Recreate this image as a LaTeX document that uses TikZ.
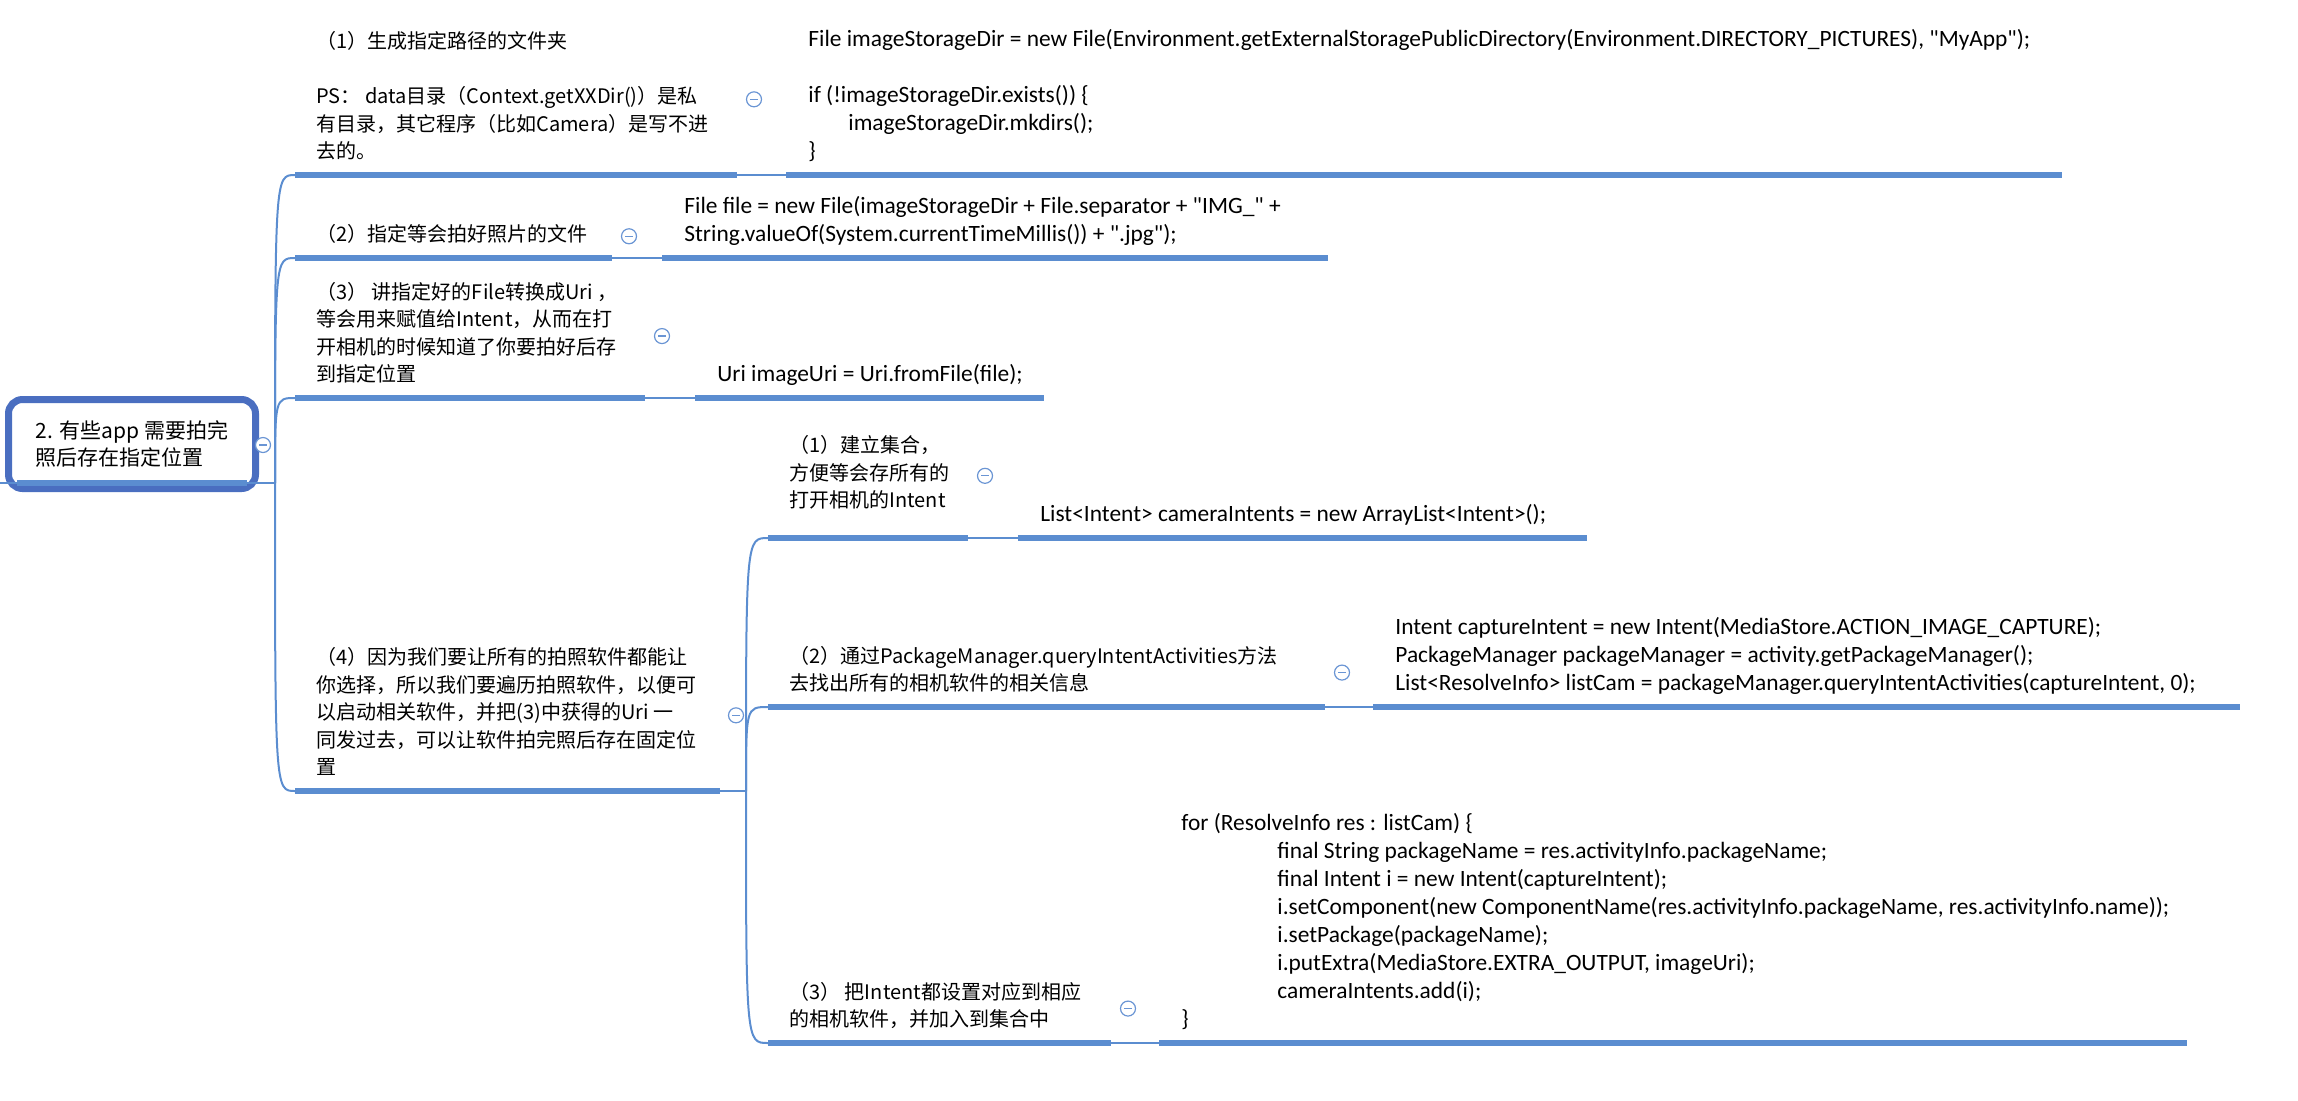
\documentclass[tikz,border=0pt]{standalone}
\usepackage{fontspec}
\setmainfont{Carlito}
\newfontfamily\cjkfont{Noto Sans CJK SC}
\newfontfamily\codefont{Carlito}
\usetikzlibrary{positioning, calc}
\definecolor{branchblue}{HTML}{5B8DD0}
\definecolor{rootblue}{HTML}{4A6EC0}
\definecolor{foldblue}{HTML}{6A95D4}

\begin{document}
\begin{tikzpicture}[
    x=0.5pt, y=-0.5pt,
    topic/.style={font=\cjkfont\fontsize{10}{13.75}\selectfont, align=left,
                  inner sep=0pt, execute at end node=\strut},
    snippet/.style={font=\codefont\fontsize{11.7}{14}\selectfont, align=left,
                    inner sep=0pt, execute at end node=\strut},
    rootbox/.style={draw=rootblue, line width=3.5pt, rounded corners=7pt,
                    minimum width=123.5pt, minimum height=44.5pt,
                    font=\cjkfont\fontsize{10.5}{13.75}\selectfont, align=left},
    bar/.style={draw=branchblue, line width=2.8pt},
    link/.style={draw=branchblue, line width=1pt},
    fold/.style={circle, draw=foldblue, line width=0.6pt, fill=white,
                 minimum size=7.5pt, inner sep=0pt,
                 path picture={\draw[foldblue, line width=0.6pt]
                   ([xshift=-1.8pt]path picture bounding box.center) --
                   ([xshift=1.8pt]path picture bounding box.center);}}
]
\useasboundingbox (0,0) rectangle (2298,1100);

% anchor points of the bars
\coordinate (r0) at (275,483);
\coordinate (u1a) at (295,175);  \coordinate (u1b) at (737,175);
\coordinate (k1a) at (786,175);  \coordinate (k1b) at (2062,175);
\coordinate (u2a) at (295,258);  \coordinate (u2b) at (612,258);
\coordinate (k2a) at (662,258);  \coordinate (k2b) at (1328,258);
\coordinate (u3a) at (295,398);  \coordinate (u3b) at (645,398);
\coordinate (k3a) at (695,398);  \coordinate (k3b) at (1044,398);
\coordinate (u4a) at (295,791);  \coordinate (u4b) at (720,791);
\coordinate (r4) at (746,791);
\coordinate (u41a) at (768,538); \coordinate (u41b) at (968,538);
\coordinate (k41a) at (1018,538);\coordinate (k41b) at (1587,538);
\coordinate (u42a) at (768,707); \coordinate (u42b) at (1325,707);
\coordinate (k42a) at (1373,707);\coordinate (k42b) at (2240,707);
\coordinate (u43a) at (768,1043);\coordinate (u43b) at (1111,1043);
\coordinate (k43a) at (1159,1043);\coordinate (k43b) at (2187,1043);

% root
\node[rootbox] (root) at (132,444) {2. 有些app 需要拍完\\照后存在指定位置};
\draw[link] (0,483) -- (r0);
\draw[bar] (17,483) -- (247,483);

% branches out of the root
\foreach \u in {u1a,u2a,u3a,u4a}
  \draw[link] (r0) .. controls (r0 |- \u) .. (\u);
\foreach \u in {u41a,u42a,u43a}
  \draw[link] (r4) .. controls (r4 |- \u) .. (\u);

% bars under topics and snippets
\foreach \a/\b/\c/\d in {u1a/u1b/k1a/k1b, u2a/u2b/k2a/k2b, u3a/u3b/k3a/k3b,
    u41a/u41b/k41a/k41b, u42a/u42b/k42a/k42b, u43a/u43b/k43a/k43b}{
  \draw[bar] (\a) -- (\b);
  \draw[link] (\b) -- (\c);
  \draw[bar] (\c) -- (\d);
}
\draw[bar] (u4a) -- (u4b);
\draw[link] (u4b) -- (r4);

% topics
\node[topic, anchor=south west, above right=3.8pt and 10.5pt of u1a] (t1)
  {（1）生成指定路径的文件夹\\[13.75pt]PS： data目录（Context.getXXDir()）是私\\有目录，其它程序（比如Camera）是写不进\\去的。};
\node[topic, above right=3.8pt and 10.5pt of u2a] (t2) {（2）指定等会拍好照片的文件};
\node[topic, above right=3.8pt and 10.5pt of u3a] (t3)
  {（3） 讲指定好的File转换成Uri ，\\等会用来赋值给Intent，从而在打\\开相机的时候知道了你要拍好后存\\到指定位置};
\node[topic, above right=3.8pt and 10.5pt of u4a] (t4)
  {（4）因为我们要让所有的拍照软件都能让\\你选择，所以我们要遍历拍照软件，以便可\\以启动相关软件，并把(3)中获得的Uri 一\\同发过去，可以让软件拍完照后存在固定位\\置};
\node[topic, above right=10.8pt and 10.5pt of u41a] (t41)
  {（1）建立集合，\\方便等会存所有的\\打开相机的Intent};
\node[topic, above right=3.8pt and 10.5pt of u42a] (t42)
  {（2）通过PackageManager.queryIntentActivities方法\\去找出所有的相机软件的相关信息};
\node[topic, above right=3.8pt and 10.5pt of u43a] (t43)
  {（3） 把Intent都设置对应到相应\\的相机软件，并加入到集合中};

% code snippets
\node[snippet, above right=4pt and 11pt of k1a] (c1)
  {File imageStorageDir = new File(Environment.getExternalStoragePublicDirectory(Environment.DIRECTORY\_PICTURES), "MyApp");\\[14pt]
   if (!imageStorageDir.exists()) \{\\
   \hspace*{20pt}imageStorageDir.mkdirs();\\
   \}};
\node[snippet, above right=4pt and 11pt of k2a] (c2)
  {File file = new File(imageStorageDir + File.separator + "IMG\_" +\\
   String.valueOf(System.currentTimeMillis()) + ".jpg");};
\node[snippet, above right=4pt and 11pt of k3a] (c3) {Uri imageUri = Uri.fromFile(file);};
\node[snippet, above right=4pt and 11pt of k41a] (c41)
  {List<Intent> cameraIntents = new ArrayList<Intent>();};
\node[snippet, above right=4pt and 11pt of k42a] (c42)
  {Intent captureIntent = new Intent(MediaStore.ACTION\_IMAGE\_CAPTURE);\\
   PackageManager packageManager = activity.getPackageManager();\\
   List<ResolveInfo> listCam = packageManager.queryIntentActivities(captureIntent, 0);};
\node[snippet, above right=4pt and 11pt of k43a] (c43)
  {for (ResolveInfo res : listCam) \{\\
   \hspace*{48pt}final String packageName = res.activityInfo.packageName;\\
   \hspace*{48pt}final Intent i = new Intent(captureIntent);\\
   \hspace*{48pt}i.setComponent(new ComponentName(res.activityInfo.packageName, res.activityInfo.name));\\
   \hspace*{48pt}i.setPackage(packageName);\\
   \hspace*{48pt}i.putExtra(MediaStore.EXTRA\_OUTPUT, imageUri);\\
   \hspace*{48pt}cameraIntents.add(i);\\
   \}};

% fold markers
\node[fold] (f0) at (263,445) {};
\node[fold] (f1) at ($(u1b |- t1.center)+(17,0)$) {};
\node[fold] (f2) at ($(u2b |- t2.center)+(17,0)$) {};
\node[fold] (f3) at ($(u3b |- t3.center)+(17,0)$) {};
\node[fold] (f4) at ($(u4b |- t4.center)+(16,0)$) {};
\node[fold] (f41) at ($(u41b |- t41.center)+(17,0)$) {};
\node[fold] (f42) at ($(u42b |- t42.center)+(17,0)$) {};
\node[fold] (f43) at ($(u43b |- t43.center)+(17,0)$) {};

\end{tikzpicture}
\end{document}
